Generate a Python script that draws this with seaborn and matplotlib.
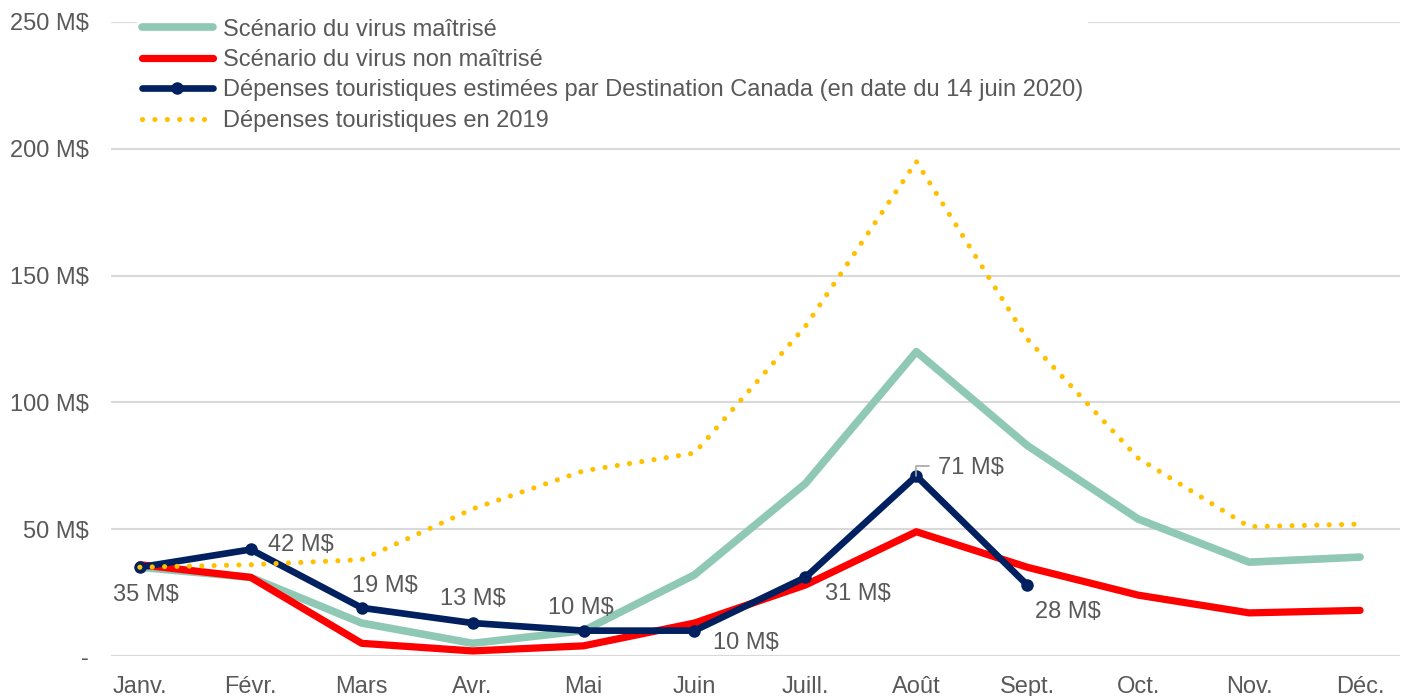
import pandas as pd
import numpy as np
import matplotlib
matplotlib.use("Agg")
import matplotlib.pyplot as plt
import seaborn as sns

# Data (millions of $)
months = ['Janv.', 'Févr.', 'Mars', 'Avr.', 'Mai', 'Juin',
          'Juill.', 'Août', 'Sept.', 'Oct.', 'Nov.', 'Déc.']
controlled = [35, 31, 13, 5, 10, 32, 68, 120, 83, 54, 37, 39]
uncontrolled = [36, 31, 5, 2, 4, 13, 28, 49, 35, 24, 17, 18]
estimated = [35, 42, 19, 13, 10, 10, 31, 71, 28, np.nan, np.nan, np.nan]
spend_2019 = [35, 36, 38, 58, 73, 80, 130, 195, 125, 78, 51, 52]

names = ['Scénario du virus maîtrisé',
         'Scénario du virus non maîtrisé',
         'Dépenses touristiques estimées par Destination Canada (en date du 14 juin 2020)',
         'Dépenses touristiques en 2019']

df = pd.DataFrame({'idx': range(len(months)), 'month': months,
                   names[0]: controlled, names[1]: uncontrolled,
                   names[2]: estimated, names[3]: spend_2019})

sns.set_style("white")
plt.rcParams['font.family'] = ['Liberation Sans', 'DejaVu Sans']
grey = '#595959'

fig = plt.figure(figsize=(14.02, 6.96), dpi=100)
ax = fig.add_axes([111 / 1402, 40 / 696, (1400 - 111) / 1402, 634 / 696])

sns.lineplot(data=df, x='idx', y=names[0], color='#8FC9B5', lw=5.5, ax=ax, label=names[0],
             solid_capstyle='round')
sns.lineplot(data=df, x='idx', y=names[1], color='#FF0000', lw=5.2, ax=ax, label=names[1],
             solid_capstyle='round')
sns.lineplot(data=df, x='idx', y=names[2], color='#002060', lw=4.8, ax=ax, label=names[2],
             marker='o', markersize=9, markeredgewidth=0, solid_capstyle='round')
sns.lineplot(data=df, x='idx', y=names[3], color='#FFC000', lw=3.7, ax=ax, label=names[3],
             linestyle=(0, (0.01, 2.4)), dash_capstyle='round')

# data labels on the Destination Canada series (offsets in points)
offsets = [(4, -20), (36, 3), (17, 16), (0, 17.5), (-2, 16), (37, -9), (38, -12), (39, 6), (29, -19.5)]
for i, (dx, dy) in enumerate(offsets):
    v = estimated[i]
    ax.annotate(f'{v:.0f} M$', (i, v), xytext=(dx, dy), textcoords='offset points',
                ha='center', va='center', fontsize=17, color=grey, zorder=5)
ax.plot([7, 7.0, 7.11], [71, 75, 75], color='#a6a6a6', lw=1.2, zorder=4)

ax.set_xlim(-0.26, 11.36)
ax.set_ylim(0, 250)
ax.set_xticks(range(len(months)))
ax.set_xticklabels(months)
yt = [0, 50, 100, 150, 200, 250]
ax.set_yticks(yt)
ax.set_yticklabels(['-'] + [f'{v} M$' for v in yt[1:]])
ax.tick_params(axis='y', length=0, pad=16, labelsize=17, labelcolor=grey)
ax.tick_params(axis='x', length=0, pad=14.5, labelsize=17, labelcolor=grey)
ax.set_xlabel('')
ax.set_ylabel('')
ax.grid(axis='y', color='#d9d9d9', lw=1.5)
ax.set_axisbelow(True)
sns.despine(ax=ax, left=True, bottom=True, top=True, right=True)

leg = ax.legend(loc='upper left', bbox_to_anchor=(137 / 1402, 1 - 14 / 696),
                bbox_transform=fig.transFigure, fontsize=17, frameon=True,
                facecolor='white', edgecolor='none', framealpha=1, fancybox=False,
                handlelength=3.0, handletextpad=0.45, labelspacing=0.355, borderpad=0.2,
                borderaxespad=0)
for t in leg.get_texts():
    t.set_color(grey)

fig.savefig('out.png', dpi=100)
